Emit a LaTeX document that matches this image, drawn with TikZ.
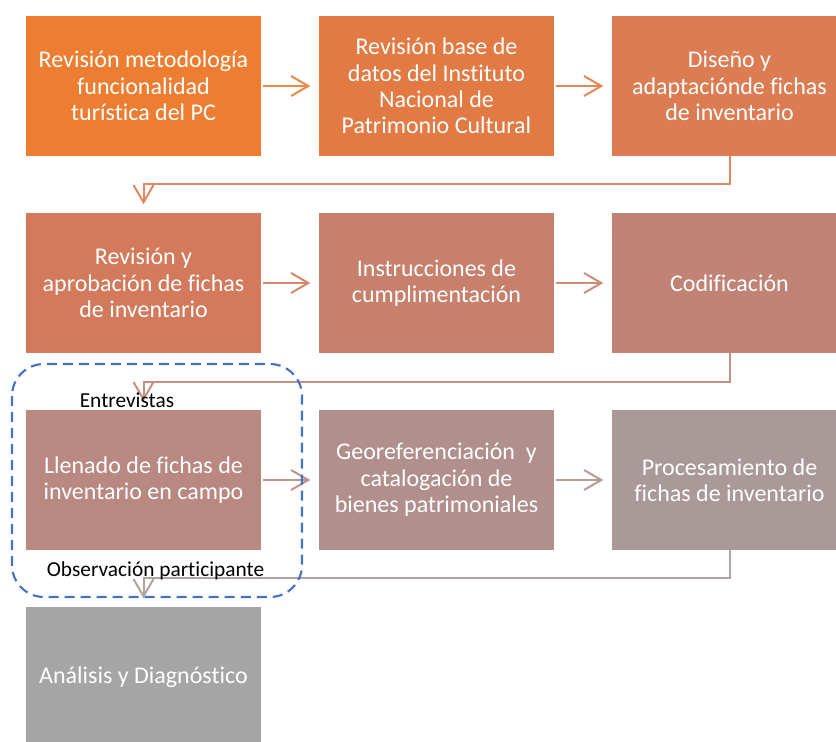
\documentclass[tikz,border=0pt]{standalone}
\usepackage{fontspec}
\setmainfont{Carlito}[Ligatures=CommonOff]
\usetikzlibrary{arrows.meta, positioning}

\definecolor{paso1}{RGB}{237,125,49}
\definecolor{paso2}{RGB}{226,123,67}
\definecolor{paso3}{RGB}{219,124,82}
\definecolor{paso4}{RGB}{211,122,92}
\definecolor{paso5}{RGB}{199,128,108}
\definecolor{paso6}{RGB}{192,131,118}
\definecolor{paso7}{RGB}{185,136,128}
\definecolor{paso8}{RGB}{177,143,140}
\definecolor{paso9}{RGB}{170,153,153}
\definecolor{paso10}{RGB}{165,165,165}
\definecolor{grupo}{RGB}{68,114,196}

\begin{document}
\begin{tikzpicture}[
	x=0.75pt, y=-0.75pt,
	node distance=42.75pt and 43.5pt,
	box/.style={minimum width=176.25pt, minimum height=105pt, inner sep=0pt, outer sep=0pt,
		align=center, text=white, font=\fontsize{18}{19.75}\selectfont},
	flow/.style={-{Straight Barb[length=13pt,width=15pt]}, line width=1.5pt,
		shorten <=1.5pt, shorten >=6.5pt},
	nota/.style={inner sep=0pt, font=\fontsize{16}{19}\selectfont}
]
\useasboundingbox (0,0) rectangle (836,742);

\node[box,fill=paso1] (revmet) at (143.5,86) {Revisión metodología\\funcionalidad\\turística del PC};
\node[box,fill=paso2] (revbase) [right=of revmet] {Revisión base de\\datos del Instituto\\Nacional de\\Patrimonio Cultural};
\node[box,fill=paso3] (diseno) [right=of revbase] {Diseño y\\adaptaciónde fichas\\de inventario};
\node[box,fill=paso4] (aprob) [below=of revmet] {Revisión y\\aprobación de fichas\\de inventario};
\node[box,fill=paso5] (instr) [right=of aprob] {Instrucciones de\\cumplimentación};
\node[box,fill=paso6] (codif) [right=of instr] {Codificación};
\node[box,fill=paso7] (llenado) [below=of aprob] {Llenado de fichas de\\inventario en campo};
\node[box,fill=paso8] (georef) [right=of llenado] {Georeferenciación\ \ y\\catalogación de\\bienes patrimoniales};
\node[box,fill=paso9] (proces) [right=of georef] {Procesamiento de\\fichas de inventario};
\node[box,fill=paso10] (analisis) [below=of llenado] {Análisis y Diagnóstico};

% flechas entre pasos
\path	(revmet) edge[flow,paso1!90!white] (revbase)
		(revbase) edge[flow,paso2!90!white] (diseno)
		(aprob) edge[flow,paso4!90!white] (instr)
		(instr) edge[flow,paso5!90!white] (codif)
		(llenado) edge[flow,paso7!90!white] (georef)
		(georef) edge[flow,paso8!90!white] (proces);

% cambios de fila
\draw[flow,shorten <=0pt,paso3!90!white] (diseno.south) -- ++(0,27.5) -| (aprob.north);
\draw[flow,shorten <=0pt,paso6!90!white] (codif.south) -- ++(0,29) -| (llenado.north);
\draw[flow,shorten <=0pt,paso9!90!white] (proces.south) -- ++(0,28) -| (analisis.north);

% trabajo de campo
\draw[grupo,line width=1.6pt,dash pattern=on 7.5pt off 4.5pt,rounded corners=24pt] (12,364) rectangle (302,597);
\node[nota] (entrev) at (127,400) {Entrevistas};
\node[nota] (observ) at (155.5,571) {Observación participante};
\end{tikzpicture}
\end{document}
